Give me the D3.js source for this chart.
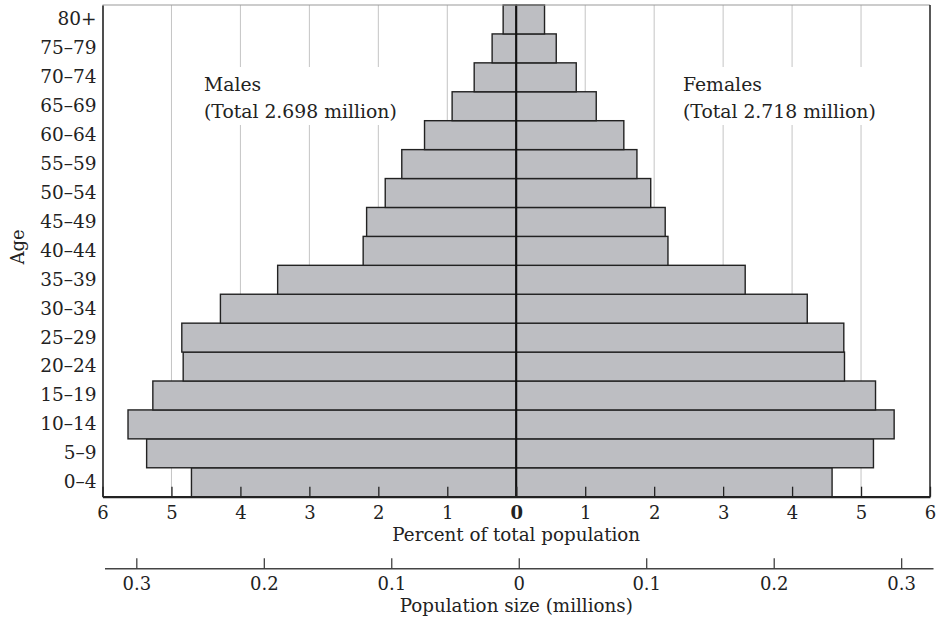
<!DOCTYPE html>
<html>
<head>
<meta charset="utf-8">
<script src="https://cdn.jsdelivr.net/npm/d3@7"></script>
<style>
  body { margin: 0; background: #fff; }
  svg text { font-family: "DejaVu Serif", serif; fill: #222; }
</style>
</head>
<body>
<div id="chart"></div>
<script>
// age pyramid, percent of total population by sex

const ageGroups = ["0–4", "5–9", "10–14", "15–19", "20–24", "25–29", "30–34", "35–39",
    "40–44", "45–49", "50–54", "55–59", "60–64", "65–69", "70–74", "75–79", "80+"];

const malePct = [4.71, 5.36, 5.63, 5.27, 4.83, 4.85, 4.29, 3.46,
    2.22, 2.17, 1.90, 1.66, 1.33, 0.93, 0.61, 0.35, 0.19];

const femalePct = [4.58, 5.18, 5.48, 5.21, 4.76, 4.75, 4.22, 3.32,
    2.20, 2.16, 1.95, 1.75, 1.56, 1.16, 0.87, 0.58, 0.41];

const maleTotal = 2.698;   // millions
const femaleTotal = 2.718;

const pctTicks = [-6, -5, -4, -3, -2, -1, 0, 1, 2, 3, 4, 5, 6];
const gridTicks = [-5, -4, -3, -2, -1, 1, 2, 3, 4, 5];
const popTicks = [-0.3, -0.2, -0.1, 0, 0.1, 0.2, 0.3];

const w = 939, h = 622;
const x_left = 102.5, x_right = 930, y_top = 5, y_bottom = 496.7;

let svg = d3.select("#chart").append("svg")
    .attr("width", w)
    .attr("height", h);

let xScale = d3.scaleLinear()
    .domain([-6, 6])
    .range([x_left, x_right]);

let yScale = d3.scaleBand()
    .domain(ageGroups)
    .range([y_bottom, y_top])
    .padding(0);

// population axis shares the percent scale, converted through total size
let total = maleTotal + femaleTotal;
let popScale = d3.scaleLinear()
    .domain(xScale.domain().map(function(p) { return p * total / 100; }))
    .range([x_left + 2, x_right + 3]);

// light vertical grid
svg.append("g")
    .selectAll("line")
    .data(gridTicks)
    .enter().append("line")
    .attr("x1", function(d) { return xScale(d); })
    .attr("x2", function(d) { return xScale(d); })
    .attr("y1", y_top)
    .attr("y2", y_bottom)
    .attr("stroke", "#c4c4c4")
    .attr("stroke-width", 1);

// sex labels, each on a white patch that hides the grid
function add_label(x, lines) {
    let g = svg.append("g");
    let t = g.append("text")
        .attr("x", x)
        .attr("y", 91)
        .style("font-size", "18.8px");
    lines.forEach(function(s, i) {
        t.append("tspan")
            .attr("x", x)
            .attr("dy", i === 0 ? 0 : 27)
            .text(s);
    });
    let b = t.node().getBBox();
    g.insert("rect", "text")
        .attr("x", b.x - 8)
        .attr("y", b.y - 7)
        .attr("width", b.width + 16)
        .attr("height", b.height + 10)
        .attr("fill", "#fff");
}
add_label(204, ["Males", "(Total " + maleTotal + " million)"]);
add_label(683, ["Females", "(Total " + femaleTotal + " million)"]);

// bars
let bars = svg.append("g")
    .attr("fill", "#bdbec2")
    .attr("stroke", "#222")
    .attr("stroke-width", 1.4);

bars.selectAll("rect.male")
    .data(malePct)
    .enter().append("rect")
    .attr("class", "male")
    .attr("x", function(d) { return xScale(-d); })
    .attr("y", function(d, i) { return yScale(ageGroups[i]); })
    .attr("width", function(d) { return xScale(0) - xScale(-d); })
    .attr("height", yScale.bandwidth());

bars.selectAll("rect.female")
    .data(femalePct)
    .enter().append("rect")
    .attr("class", "female")
    .attr("x", xScale(0))
    .attr("y", function(d, i) { return yScale(ageGroups[i]); })
    .attr("width", function(d) { return xScale(d) - xScale(0); })
    .attr("height", yScale.bandwidth());

// centre line
svg.append("line")
    .attr("x1", xScale(0)).attr("x2", xScale(0))
    .attr("y1", y_top).attr("y2", y_bottom)
    .attr("stroke", "#111")
    .attr("stroke-width", 2);

// frame top and right
svg.append("line")
    .attr("x1", x_left).attr("x2", x_right)
    .attr("y1", y_top).attr("y2", y_top)
    .attr("stroke", "#999")
    .attr("stroke-width", 1);
svg.append("line")
    .attr("x1", x_right).attr("x2", x_right)
    .attr("y1", y_top).attr("y2", y_bottom)
    .attr("stroke", "#222")
    .attr("stroke-width", 1.5);

// age axis
let yAxis = d3.axisLeft(yScale)
    .tickSize(0)
    .tickPadding(6);
let ya = svg.append("g")
    .attr("transform", "translate(" + x_left + ",0)")
    .call(yAxis);
ya.select(".domain").attr("stroke", "#222").attr("stroke-width", 1.6);
ya.selectAll("text")
    .style("font-family", "DejaVu Serif")
    .style("font-size", "18.5px");

svg.append("text")
    .attr("transform", "translate(24," + 247 + ") rotate(-90)")
    .style("text-anchor", "middle")
    .style("font-size", "18px")
    .text("Age");

// percent axis
let xAxis = d3.axisBottom(xScale)
    .tickValues(pctTicks)
    .tickSizeInner(-10)
    .tickSizeOuter(0)
    .tickPadding(10)
    .tickFormat(function(d) { return Math.abs(d); });
let xa = svg.append("g")
    .attr("transform", "translate(0," + y_bottom + ")")
    .call(xAxis);
xa.select(".domain").attr("stroke", "#222").attr("stroke-width", 2.2);
xa.selectAll(".tick line").attr("stroke", "#222").attr("stroke-width", 1.3);
xa.selectAll("text")
    .style("font-family", "DejaVu Serif")
    .style("font-size", "18px")
    .style("font-weight", function(d) { return d === 0 ? "bold" : "normal"; });

svg.append("text")
    .attr("x", xScale(0))
    .attr("y", 541)
    .style("text-anchor", "middle")
    .style("font-size", "18.3px")
    .text("Percent of total population");

// population size axis
let popAxis = d3.axisBottom(popScale)
    .tickValues(popTicks)
    .tickSizeInner(-10)
    .tickSizeOuter(0)
    .tickPadding(9)
    .tickFormat(function(d) { return d === 0 ? "0" : d3.format(".1f")(Math.abs(d)); });
let pa = svg.append("g")
    .attr("transform", "translate(0,568.3)")
    .call(popAxis);
pa.select(".domain").attr("stroke", "#444").attr("stroke-width", 1.6);
pa.selectAll(".tick line").attr("stroke", "#333").attr("stroke-width", 1.2);
pa.selectAll("text")
    .style("font-family", "DejaVu Serif")
    .style("font-size", "18px");

svg.append("text")
    .attr("x", xScale(0))
    .attr("y", 612)
    .style("text-anchor", "middle")
    .style("font-size", "18.3px")
    .text("Population size (millions)");
</script>
</body>
</html>
